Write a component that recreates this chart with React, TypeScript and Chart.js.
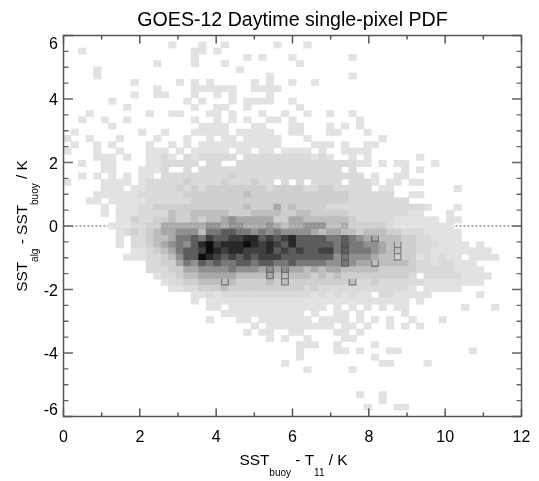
import React, { useEffect, useRef } from "react";
import { Chart, registerables } from "chart.js";

Chart.register(...registerables);

const titleText = "GOES-12 Daytime single-pixel PDF";
const xMin = 0;
const xMax = 12;
const yMin = -6;
const yMax = 6;
const binCount = 61;
const xTitleRuns: [string, boolean][] = [["SST", false], ["buoy", true], [" - T", false], ["11", true], [" / K", false]];
const yTitleRuns: [string, boolean][] = [["SST", false], ["alg", true], [" - SST", false], ["buoy", true], [" / K", false]];

// Grey level of each histogram bin, top row first; one character per x bin, spaces only for legibility.
const densityRows: string[] = [
  "",
  "0000000000 0000100010 0100000010 0010000000",
  "0010000000 0000000110 1",
  "0000000000 0000000100 0000101000 1000000010",
  "0000000000 0010000100 0100000000 0100000000",
  "0000100000 0000000000 0001",
  "0000100000 0000000000 0000000100 0000000010",
  "0000000001 0000010101 0000010100 1001",
  "0000000000 0010000111 1110011110",
  "0000000001 0011000100 1010000100",
  "0000001000 0000001010 0010111100 1",
  "0000000010 0000000100 1100100000 01",
  "0001000000 0100110001 1010001001 0010010010",
  "0010010010 0000000100 1010100110 1000000001",
  "0000001000 0000000011 1100011000 1100010101",
  "0100000000 1001000111 1101111100 1100011000 1",
  "1001000100 0010001001 0110111110 0010000000 0010",
  "0100101000 0100101011 1111111110 0001110100 11",
  "1000100100 0111010111 1101101101 1110100111 1",
  "0000111010 0112102122 2220222222 2221210010 1000000100",
  "0010011000 0112222202 2002222222 2222222221 1010110001",
  "0000011000 1112002022 2222222222 2222222020 0000010100",
  "0010101010 1102222222 2232222222 2222222222 0100110000",
  "1000011110 1222223222 2322232202 0202222022 2101101100",
  "0000011101 1222232323 3333333233 3322332222 2011000000 0010000000",
  "0000111111 2222223333 3333433333 3333333322 2222001100",
  "0001101111 1222222333 3333333333 3333333322 2222220000",
  "0000010111 2233333333 3333433353 4333322222 2222222210 0010000000",
  "0000010111 2222433444 4433344443 3443333322 2222221100 0100000000",
  "0000000113 2233433434 4565555533 5544444432 2222111111 0110000000",
  "0000001112 2335555556 6566555654 5566644533 3332111111 11",
  "0000000123 2345566647 7887767676 6665455443 4443322211 111",
  "0000000102 2344577879 8899aa8989 a888877876 5544433221 111",
  "0000000102 23456768ab 9aaaba9a98 a888887877 6654433222 1111010000",
  "0000000001 123457889b a9aa999a89 8988997877 7654433221 1111111",
  "0000000011 12234688ba 9898989998 8888886766 6544333121 21101111",
  "0000000000 0223357687 8778878877 8777766765 5444443221 22111",
  "0000000000 0222335566 6676665656 5545455444 4433333222 221111",
  "0000000000 0012234455 5554444544 4443434333 3333332022 2221111",
  "0000000000 0001223344 4443333434 3333333342 2322222211 111111",
  "0000000000 0000112233 3433333333 3323222222 2222221011 111",
  "0000000000 0000000112 1222222222 2221212121 1022111110 0000010000",
  "0000000000 0000000101 1111111111 1111111111 1111110100",
  "0000000000 0000000001 1011111111 1111101010 1010110000 0001000100",
  "0000000000 0000000000 0111111111 1101001101 0000010000",
  "0000000000 0000000001 0001101111 1110111101 0101001000 1",
  "0000000000 0000000000 0000010111 1111110110 1001010100",
  "0000000000 0000000000 0000101100 1100001101",
  "0000000000 0000000000 0000000101 0010000110",
  "0000000000 0000000000 0000000000 0111001000 0100000000",
  "0000000000 0000000000 0000000000 0100001101 0001100000 0000100000",
  "0000000000 0000000000 0000000000 0100000000 0100000000",
  "0000000000 0000000000 0000000001 0000000000 0011000010",
  "0000000000 0000000000 0000000000 0010000010",
  "",
  "",
  "",
  "0000000000 0000000000 0000000000 0000000001 0010000000",
  "0000000000 0000000000 0000000000 0000000000 0010000000",
  "0000000000 0000000000 0000000000 0000000000 1000110000",
  "",
];

// Grey of each level, from the lightest occupied bin to the densest.
const levelGreys = ["#ffffff", "#e2e2e2", "#dadada", "#cfcfcf", "#bebebe", "#a8a8a8", "#909090", "#787878", "#5c5c5c", "#404040", "#282828", "#0c0c0c"];

// Bins [x index, y index from the bottom] that carry the thin contour outline.
const outlinedBins: [number, number][] = [
  [21, 21], [27, 23], [27, 22], [29, 23], [29, 22], [29, 21], [37, 27], [37, 26], [37, 25], [37, 24],
  [38, 21], [44, 27], [44, 26], [44, 25], [41, 28], [41, 24],
];

const zeroLineX = [xMin, xMax];
const zeroLineY = [0, 0];

const binW = (xMax - xMin) / binCount;
const binH = (yMax - yMin) / binCount;
const binPoint = (k: number, r: number) => ({
  x: xMin + (k + 0.5) * binW,
  y: [yMin + r * binH, yMin + (r + 1) * binH],
});

const FONT = '"Liberation Sans", Arial, sans-serif';
const MAIN_PX = 15.4;
const SUB_PX = 10;
const SUB_DROP = 11;

function drawRuns(ctx: CanvasRenderingContext2D, runs: [string, boolean][], x: number, y: number) {
  let cx = x;
  for (const [text, isSub] of runs) {
    ctx.font = `${isSub ? SUB_PX : MAIN_PX}px ${FONT}`;
    ctx.fillText(text, cx, isSub ? y + SUB_DROP : y);
    cx += ctx.measureText(text).width;
  }
}
function runsWidth(ctx: CanvasRenderingContext2D, runs: [string, boolean][]) {
  let w = 0;
  for (const [text, isSub] of runs) {
    ctx.font = `${isSub ? SUB_PX : MAIN_PX}px ${FONT}`;
    w += ctx.measureText(text).width;
  }
  return w;
}

const framePlugin = {
  id: "idlFrame",
  afterDatasetsDraw(chart: any) {
    const { ctx, chartArea: a, scales } = chart;
    ctx.save();
    ctx.strokeStyle = "#4a4a4a";
    ctx.lineWidth = 1.4;
    for (const t of scales.x.ticks) {
      const px = scales.x.getPixelForValue(t.value);
      const len = t.value % 2 === 0 ? 8 : 4;
      ctx.beginPath();
      ctx.moveTo(px, a.bottom);
      ctx.lineTo(px, a.bottom - len);
      ctx.moveTo(px, a.top);
      ctx.lineTo(px, a.top + len);
      ctx.stroke();
    }
    ctx.strokeStyle = "#666666";
    for (const t of scales.y.ticks) {
      const py = scales.y.getPixelForValue(t.value);
      const len = t.value % 2 === 0 ? 9.5 : 5;
      ctx.beginPath();
      ctx.moveTo(a.left, py);
      ctx.lineTo(a.left + len, py);
      ctx.moveTo(a.right, py);
      ctx.lineTo(a.right - len, py);
      ctx.stroke();
    }
    ctx.strokeStyle = "#555555";
    ctx.lineWidth = 1.5;
    ctx.strokeRect(a.left, a.top, a.right - a.left, a.bottom - a.top);
    ctx.restore();

    ctx.save();
    ctx.fillStyle = "#000000";
    ctx.textBaseline = "alphabetic";
    ctx.textAlign = "left";
    const xw = runsWidth(ctx, xTitleRuns);
    drawRuns(ctx, xTitleRuns, (a.left + a.right) / 2 - xw / 2 + 1, 465);
    const yw = runsWidth(ctx, yTitleRuns);
    ctx.translate(27, (a.top + a.bottom) / 2 + yw / 2);
    ctx.rotate(-Math.PI / 2);
    drawRuns(ctx, yTitleRuns, 0, 0);
    ctx.restore();
  },
};

export default function App() {
  const ref = useRef<HTMLCanvasElement | null>(null);
  useEffect(() => {
    if (!ref.current) return;
    const cells: any[] = [];
    const colors: string[] = [];
    densityRows.forEach((line, i) => {
      const r = binCount - 1 - i;
      const row = line.replace(/ /g, "");
      for (let k = 0; k < row.length; k++) {
        const level = parseInt(row[k], 16);
        if (level > 0) {
          cells.push(binPoint(k, r));
          colors.push(levelGreys[level]);
        }
      }
    });
    const zeroLine = zeroLineX.map((x, i) => ({ x, y: zeroLineY[i] }));
    const tickFont = { family: FONT, size: 16, lineHeight: 15 / 16 };
    const chart = new Chart(ref.current, {
      type: "bar",
      data: {
        datasets: [
          {
            type: "line",
            data: zeroLine,
            borderColor: "#333333",
            borderWidth: 1,
            borderDash: [2, 2],
            pointRadius: 0,
            order: 4,
          },
          {
            data: cells,
            backgroundColor: colors,
            barPercentage: 1,
            categoryPercentage: 1,
            grouped: false,
            order: 3,
          },
          {
            data: outlinedBins.map(([k, r]) => binPoint(k, r)),
            backgroundColor: "rgba(0,0,0,0)",
            borderColor: "rgba(70,70,70,0.55)",
            borderWidth: 0.7,
            barPercentage: 1,
            categoryPercentage: 1,
            grouped: false,
            order: 2,
          },
          {
            type: "line",
            data: zeroLine,
            borderColor: "rgba(255,255,255,0.45)",
            borderWidth: 1,
            borderDash: [2, 2],
            pointRadius: 0,
            order: 1,
          },
        ],
      } as any,
      options: {
        animation: false,
        responsive: false,
        devicePixelRatio: 1,
        layout: { padding: { left: 0, right: 17.5, top: 0, bottom: 0 } },
        plugins: {
          legend: { display: false },
          tooltip: { enabled: false },
          title: {
            display: true,
            text: titleText,
            color: "#000000",
            fullSize: false,
            font: { family: FONT, size: 19.6, weight: "normal", lineHeight: 1.2 },
            padding: { top: 9, bottom: 3 },
          },
        },
        scales: {
          x: {
            type: "linear",
            min: xMin,
            max: xMax,
            offset: false,
            grid: { display: false, drawTicks: false },
            border: { display: false },
            afterFit: (s: any) => {
              s.height = 64.5;
              s.paddingLeft = 0;
              s.paddingRight = 0;
            },
            ticks: {
              stepSize: 1,
              autoSkip: false,
              maxRotation: 0,
              color: "#000000",
              font: tickFont,
              padding: 14,
              callback: (v: any) => (Number(v) % 2 === 0 ? String(v) : ""),
            },
          },
          y: {
            type: "linear",
            min: yMin,
            max: yMax,
            grid: { display: false, drawTicks: false },
            border: { display: false },
            afterFit: (s: any) => {
              s.width = 63.5;
              s.paddingTop = 0;
              s.paddingBottom = 0;
            },
            ticks: {
              stepSize: 0.5,
              autoSkip: false,
              color: "#000000",
              font: tickFont,
              padding: 5.5,
              labelOffset: 2,
              callback: (v: any) => {
                const n = Number(v);
                if (n === yMax) return ["", String(n)];
                if (n === yMin) return [String(n), ""];
                return n % 2 === 0 ? String(n) : "";
              },
            },
          },
        },
      } as any,
      plugins: [framePlugin],
    } as any);
    return () => chart.destroy();
  }, []);
  return (
    <div style={{ position: "absolute", left: 0, top: 0, width: 539, height: 481, background: "#ffffff" }}>
      <canvas ref={ref} width={539} height={481} style={{ display: "block" }} />
    </div>
  );
}
